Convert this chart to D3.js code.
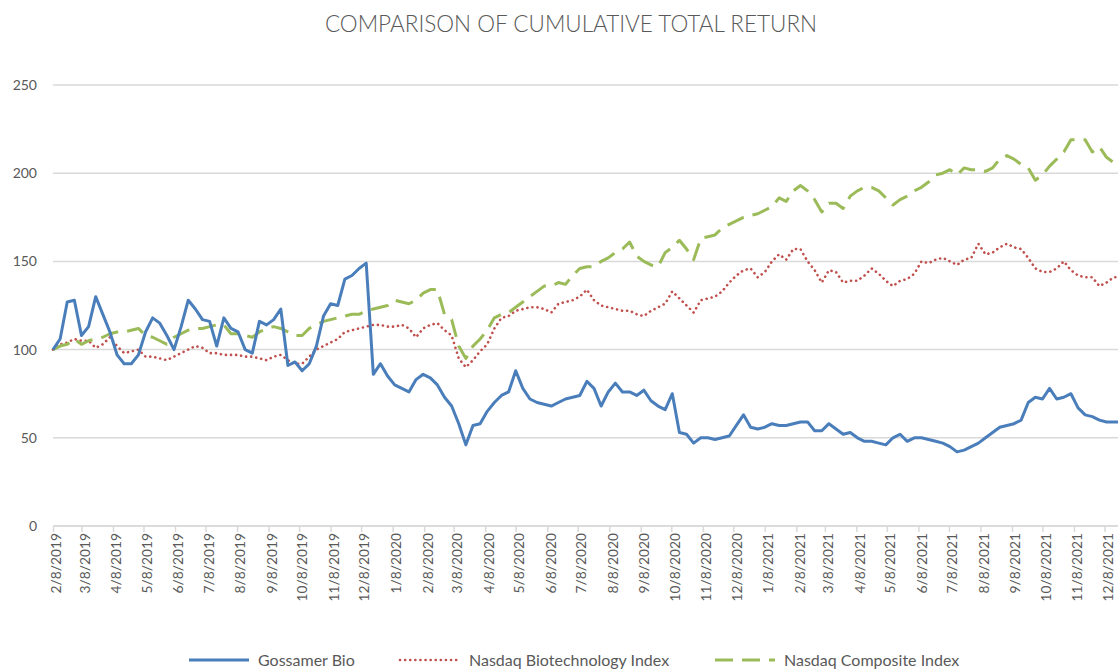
<!DOCTYPE html>
<html lang="en">
<head>
<meta charset="utf-8">
<title>Cumulative Total Return</title>
<script src="https://d3js.org/d3.v7.min.js"></script>
<style>
  body { margin: 0; background: #fff; }
  text { font-family: Lato, "Open Sans", sans-serif; fill: #595959; }
</style>
</head>
<body>
<script>
// weekly closes, first point 2/8/2019, one value per week
var startDate = new Date(2019, 1, 8);
var seriesNames = ["Gossamer Bio", "Nasdaq Biotechnology Index", "Nasdaq Composite Index"];

var gossamer = [
  100,106,127,128,108,113,130,120,110,97,
  92,92,97,110,118,115,108,100,113,128,
  123,117,116,102,118,112,110,100,98,116,
  114,117,123,91,93,88,92,102,119,126,
  125,140,142,146,149,86,92,85,80,78,
  76,83,86,84,80,73,68,58,46,57,
  58,65,70,74,76,88,78,72,70,69,
  68,70,72,73,74,82,78,68,76,81,
  76,76,74,77,71,68,66,75,53,52,
  47,50,50,49,50,51,57,63,56,55,
  56,58,57,57,58,59,59,54,54,58,
  55,52,53,50,48,48,47,46,50,52,
  48,50,50,49,48,47,45,42,43,45,
  47,50,53,56,57,58,60,70,73,72,
  78,72,73,75,67,63,62,60,59,59,
  59,60
];

var biotech = [
  100,103,104,106,105,105,101,103,107,102,
  98,99,100,96,96,95,94,96,98,100,
  102,101,98,98,97,97,97,96,96,95,
  94,96,97,94,92,92,96,100,102,104,
  106,110,111,112,113,114,114,113,113,114,
  112,107,112,114,115,111,108,95,90,94,
  99,103,112,118,119,122,123,124,124,123,
  121,126,127,128,130,134,128,125,124,123,
  122,122,120,119,122,124,126,133,129,125,
  121,128,129,130,133,138,142,145,146,141,
  144,150,154,151,157,157,150,145,138,145,
  144,138,139,139,142,146,143,139,136,139,
  140,143,150,149,151,152,150,148,151,152,
  160,154,155,158,160,158,157,152,146,144,
  144,146,150,145,142,141,141,136,138,141,
  141,142
];

var composite = [
  100,102,103,106,103,105,106,107,109,110,
  110,111,112,108,107,105,103,107,109,111,
  112,112,113,114,114,109,109,108,107,110,
  112,113,112,110,108,108,112,114,116,117,
  118,119,120,120,122,123,124,125,128,127,
  126,128,132,134,134,120,117,102,95,102,
  106,111,118,120,121,124,127,130,133,136,
  136,138,137,142,146,147,147,150,152,155,
  157,161,153,150,148,147,155,158,162,157,
  151,163,164,165,169,171,173,175,176,177,
  179,181,186,184,190,193,190,185,178,183,
  183,180,187,190,192,192,190,186,182,185,
  187,190,192,195,199,200,202,199,203,202,
  202,201,203,208,210,208,205,203,196,199,
  204,208,212,219,219,219,212,215,209,206,
  207,207
];

var yTicks = [0, 50, 100, 150, 200, 250];
// monthly ticks on the 8th, 2/8/2019 .. 12/8/2021
var xTicks = d3.range(35).map(function(i) { return new Date(2019, 1 + i, 8); });

var w = 1118, h = 669;
var plotLeft = 53, plotRight = 1104.5, plotTop = 85, plotBottom = 526;

var svg = d3.select("body").append("svg")
  .attr("width", w)
  .attr("height", h);

var xScale = d3.scaleTime()
  .domain([xTicks[0], xTicks[xTicks.length - 1]])
  .range([plotLeft, plotRight]);

var yScale = d3.scaleLinear()
  .domain([0, 250])
  .range([plotBottom, plotTop]);

function dateAt(i) { return d3.timeDay.offset(startDate, 7 * i); }

// title
svg.append("text")
  .attr("x", 571)
  .attr("y", 32)
  .attr("text-anchor", "middle")
  .attr("font-size", "22.5px")
  .attr("font-weight", 300)
  .text("COMPARISON OF CUMULATIVE TOTAL RETURN");

// gridlines
svg.append("g")
  .selectAll("line")
  .data(yTicks)
  .enter()
  .append("line")
  .attr("x1", plotLeft)
  .attr("x2", w)
  .attr("y1", function(d) { return yScale(d); })
  .attr("y2", function(d) { return yScale(d); })
  .attr("stroke", "#d9d9d9")
  .attr("stroke-width", 1.5);

// y axis labels
var yAxis = d3.axisLeft(yScale).tickValues(yTicks).tickSize(0).tickPadding(16);
svg.append("g")
  .attr("transform", "translate(" + plotLeft + ",0)")
  .call(yAxis)
  .call(function(g) { g.select(".domain").remove(); })
  .selectAll("text")
  .attr("font-size", "14px")
  .attr("fill", "#595959")
  .attr("font-family", "Lato, sans-serif");

// x axis
var xAxis = d3.axisBottom(xScale)
  .tickValues(xTicks)
  .tickSize(6)
  .tickPadding(4)
  .tickFormat(d3.timeFormat("%-m/%-d/%Y"));

var gx = svg.append("g")
  .attr("transform", "translate(0," + plotBottom + ")")
  .call(xAxis);
gx.select(".domain")
  .attr("d", "M" + plotLeft + ",0H" + w)
  .attr("stroke", "#d9d9d9")
  .attr("stroke-width", 1.5);
gx.selectAll(".tick line").attr("stroke", "#d9d9d9").attr("stroke-width", 1.5);
gx.selectAll(".tick text")
  .attr("font-size", "13.8px")
  .attr("fill", "#595959")
  .attr("font-family", "Lato, sans-serif")
  .attr("text-anchor", "end")
  .attr("transform", "rotate(-90)")
  .attr("x", -7)
  .attr("y", 3)
  .attr("dy", "0.35em");

// lines
var line = d3.line()
  .x(function(d, i) { return xScale(dateAt(i)); })
  .y(function(d) { return yScale(d); });

var styles = [
  { data: gossamer, color: "#4a7ebb", dash: null, width: 3, cap: "butt" },
  { data: biotech, color: "#c0504d", dash: "0.1,5", width: 2.6, cap: "round" },
  { data: composite, color: "#9bbb59", dash: "18,9", width: 3, cap: "butt" }
];

// draw biotech first, then composite, then gossamer on top
[1, 2, 0].forEach(function(k) {
  var s = styles[k];
  svg.append("path")
    .datum(s.data)
    .attr("fill", "none")
    .attr("stroke", s.color)
    .attr("stroke-width", s.width)
    .attr("stroke-linejoin", "round")
    .attr("stroke-linecap", s.cap)
    .attr("stroke-dasharray", s.dash)
    .attr("d", line);
});

// legend
var legendX = [189, 400, 715];
var legend = svg.append("g");
styles.forEach(function(s, i) {
  legend.append("line")
    .attr("x1", legendX[i])
    .attr("x2", legendX[i] + 60)
    .attr("y1", 660)
    .attr("y2", 660)
    .attr("stroke", s.color)
    .attr("stroke-width", s.width)
    .attr("stroke-linecap", s.cap)
    .attr("stroke-dasharray", s.dash);
  legend.append("text")
    .attr("x", legendX[i] + 69)
    .attr("y", 666)
    .attr("font-size", "16px")
    .text(seriesNames[i]);
});
</script>
</body>
</html>
